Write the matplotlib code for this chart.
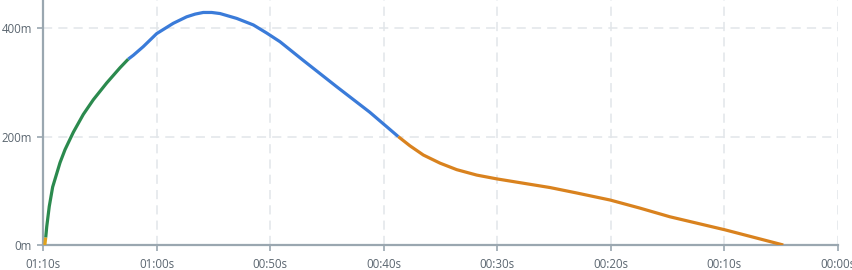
import matplotlib.pyplot as plt

# time remaining (s) and altitude (m) for each phase of the curve
t_start = [69.84, 69.76]
h_start = [0, 14]

t_climb = [69.76, 69.67, 69.45, 69.15, 68.50, 68.06, 67.33, 66.45, 65.57,
           64.39, 63.22, 62.49]
h_climb = [14, 34, 71, 107, 152, 176, 208, 241, 268, 299, 327, 343]

t_coast = [62.49, 62.05, 61.17, 59.99, 58.53, 57.35, 56.60, 55.89, 55.15, 54.41,
           52.94, 51.48, 50.30, 49.13, 47.11, 44.14, 41.23, 38.72]
h_coast = [343, 350, 366, 390, 409, 421, 426, 429, 429, 427,
           418, 406, 391, 375, 341, 292, 245, 200]

t_descent = [38.72, 37.69, 36.51, 35.04, 33.57, 31.81, 30.05, 27.71, 25.36,
             23.01, 20.07, 17.43, 14.79, 9.95, 4.82]
h_descent = [200, 183, 166, 151, 139, 129, 122, 114, 106,
             96, 83, 68, 52, 28, 0]

x_ticks = [70, 60, 50, 40, 30, 20, 10, 0]
x_labels = ["01:10s", "01:00s", "00:50s", "00:40s", "00:30s", "00:20s", "00:10s", "00:00s"]
y_ticks = [0, 200, 400]
y_labels = ["0m", "200m", "400m"]

plt.rcParams['font.family'] = ['Open Sans', 'DejaVu Sans']

fig = plt.figure(figsize=(8.53, 2.70), dpi=100)
ax = fig.add_axes([43 / 853, 25 / 270, 795 / 853, 245 / 270])

lw = 2.3
ax.plot(t_start, h_start, color="#e0a21c", lw=lw, solid_capstyle="butt", zorder=3)
ax.plot(t_climb, h_climb, color="#2b8a4e", lw=lw, solid_capstyle="butt",
        solid_joinstyle="round", zorder=3)
ax.plot(t_coast, h_coast, color="#3a7bd9", lw=lw, solid_capstyle="butt",
        solid_joinstyle="round", zorder=3)
ax.plot(t_descent, h_descent, color="#d9821e", lw=lw, solid_capstyle="butt",
        solid_joinstyle="round", zorder=3)

ax.set_xlim(70, 0)
ax.set_ylim(0, 452)
ax.set_xticks(x_ticks)
ax.set_xticklabels(x_labels)
ax.set_yticks(y_ticks)
ax.set_yticklabels(y_labels)

ax.grid(True, color="#e2e6ea", linestyle=(0, (6, 4)), linewidth=1.1)
axis_col = "#9aa7b0"
for side in ["top", "right"]:
    ax.spines[side].set_visible(False)
for side in ["left", "bottom"]:
    ax.spines[side].set_color(axis_col)
    ax.spines[side].set_linewidth(1.6)
ax.tick_params(colors=axis_col, labelcolor="#5b6670", labelsize=8.3, length=4, width=1.2)
ax.tick_params(axis="x", pad=5)
ax.tick_params(axis="y", pad=4)

plt.savefig("out.png", dpi=100)
